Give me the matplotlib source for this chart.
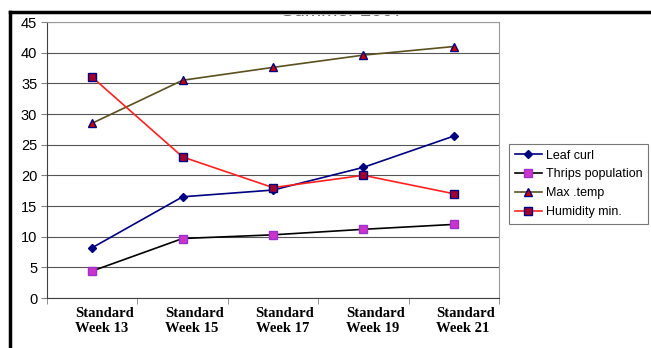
import matplotlib
matplotlib.use("Agg")
import matplotlib.pyplot as plt
import matplotlib.transforms as mtransforms
from matplotlib.patches import Rectangle
from matplotlib.lines import Line2D

categories = ["Standard\nWeek 13", "Standard\nWeek 15", "Standard\nWeek 17", "Standard\nWeek 19", "Standard\nWeek 21"]
leaf_curl = [8.2, 16.5, 17.6, 21.3, 26.4]
thrips = [4.4, 9.7, 10.3, 11.2, 12.0]
max_temp = [28.5, 35.5, 37.6, 39.6, 41.0]
humidity = [36.0, 23.0, 18.0, 20.0, 17.0]
yticks = [0, 5, 10, 15, 20, 25, 30, 35, 40, 45]

W, H = 651, 348
fig = plt.figure(figsize=(W/100, H/100), dpi=100)
ax = fig.add_axes([47/W, 1-298/H, (499-47)/W, (298-22)/H])

x = list(range(len(categories)))
ax.plot(x, leaf_curl, color="#000080", lw=1.2, marker="D", ms=4.5, mfc="#000080", mec="#000080", label="Leaf curl", zorder=3)
ax.plot(x, thrips, color="#000000", lw=1.2, marker="s", ms=5.5, mfc="#CC33CC", mec="#9933CC", label="Thrips population", zorder=3)
ax.plot(x, max_temp, color="#5A5020", lw=1.2, marker="^", ms=6, mfc="#CC0000", mec="#000080", label="Max .temp", zorder=3)
ax.plot(x, humidity, color="#FF2020", lw=1.2, marker="s", ms=5.5, mfc="#A00030", mec="#000080", label="Humidity min.", zorder=3)

ax.set_xlim(-0.5, 4.5)
ax.set_ylim(0, 45)
ax.set_yticks(yticks)
ax.set_yticklabels([str(v) for v in yticks], fontsize=10.5, family="Liberation Sans")
ax.set_xticks(x)
ax.set_xticklabels([])
offset = mtransforms.ScaledTranslation(12/100, -9/100, fig.dpi_scale_trans)
for xi, cat in zip(x, categories):
    ax.text(xi, 0, cat, transform=ax.get_xaxis_transform() + offset, ha="center", va="top",
            fontsize=10.5, family="Liberation Serif", fontweight="bold",
            multialignment="left", linespacing=1.25)
ax.set_xticks([-0.5, 0.5, 1.5, 2.5, 3.5, 4.5], minor=True)
ax.tick_params(axis="x", which="major", length=0)
ax.tick_params(axis="x", which="minor", length=4, color="#808080")
ax.tick_params(axis="y", length=4, color="#808080", pad=3)
ax.grid(axis="y", color="#555555", lw=0.8)
ax.set_axisbelow(True)
for s in ax.spines.values():
    s.set_color("#9a9a9a")
ax.spines["left"].set_color("#404040")
ax.spines["bottom"].set_color("#404040")

leg = fig.legend(loc="upper left", bbox_to_anchor=(509/W, 1-144/H), frameon=True, fancybox=False,
                 prop={"family": "Liberation Sans", "size": 9}, handlelength=2.2, borderpad=0.45,
                 labelspacing=0.55, handletextpad=0.3, borderaxespad=0)
leg.get_frame().set_edgecolor("#555555")
leg.get_frame().set_linewidth(0.8)

# partially cut-off title
fig.text(342/W, 1-15.5/H, "Summer 2007", ha="center", va="baseline", fontsize=14, family="Liberation Sans", color="#444444")
fig.patches.append(Rectangle((0, 1-14/H), 1, 14/H, transform=fig.transFigure, color="white", zorder=10))
# black frame
fig.add_artist(Line2D([10/W, 10/W], [0, 1-12/H], transform=fig.transFigure, color="black", lw=2.5, zorder=11))
fig.add_artist(Line2D([10/W, 1], [1-12/H, 1-12/H], transform=fig.transFigure, color="black", lw=2.5, zorder=11))

fig.savefig("out.png", dpi=100)
